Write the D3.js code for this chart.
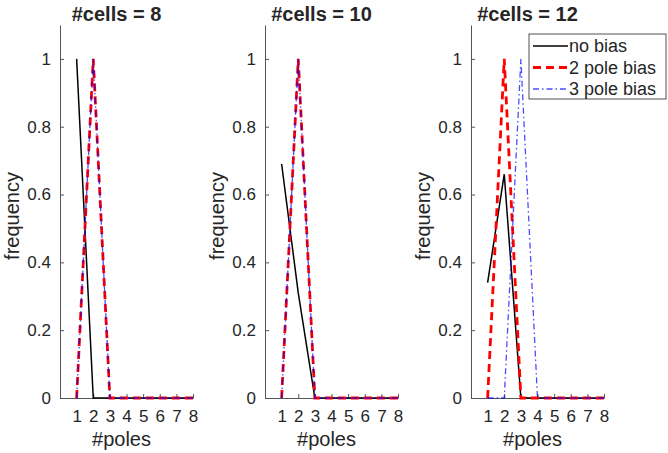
<!DOCTYPE html>
<html>
<head>
<meta charset="utf-8">
<script src="https://d3js.org/d3.v7.min.js"></script>
<style>
  body { margin: 0; background: #fff; }
  text { font-family: "Liberation Sans", Arial, sans-serif; fill: #262626; }
</style>
</head>
<body>
<script>
// values
var poles = [1, 2, 3, 4, 5, 6, 7, 8];
var cells = [8, 10, 12];
var noBias = [
  [1, 0, 0, 0, 0, 0, 0, 0],
  [0.69, 0.31, 0, 0, 0, 0, 0, 0],
  [0.34, 0.66, 0, 0, 0, 0, 0, 0]
];
var pole2Bias = [
  [0, 1, 0, 0, 0, 0, 0, 0],
  [0, 1, 0, 0, 0, 0, 0, 0],
  [0, 1, 0, 0, 0, 0, 0, 0]
];
var pole3Bias = [
  [0, 1, 0, 0, 0, 0, 0, 0],
  [0, 1, 0, 0, 0, 0, 0, 0],
  [0, 0, 1, 0, 0, 0, 0, 0]
];
var yTicks = [0, 0.2, 0.4, 0.6, 0.8, 1];
var seriesNames = ["no bias", "2 pole bias", "3 pole bias"];

var width = 668, height = 453;
var svg = d3.select("body").append("svg")
  .attr("width", width)
  .attr("height", height);

// left edge of each axes box
var lefts = [60, 265, 471];
var axW = 133, axTop = 25, axBottom = 398;

var styles = [
  { color: "#000000", w: 1.5, dash: null, op: 1 },
  { color: "#ff0000", w: 2.8, dash: "8,5", op: 1 },
  { color: "#0000ff", w: 1.3, dash: "6,3,1.5,3", op: 0.7 }
];

var y = d3.scaleLinear().domain([0, 1.1]).range([axBottom, axTop]);

cells.forEach(function (c, i) {
  var x = d3.scaleLinear().domain([0, 8]).range([lefts[i], lefts[i] + axW]);
  var g = svg.append("g");

  // axes, ticks pointing inward like matlab
  var xa = g.append("g")
    .attr("transform", "translate(0," + axBottom + ")")
    .call(d3.axisBottom(x).tickValues(poles).tickSizeInner(-4).tickSizeOuter(0).tickPadding(12));
  var ya = g.append("g")
    .attr("transform", "translate(" + lefts[i] + ",0)")
    .call(d3.axisLeft(y).tickValues(yTicks).tickSizeInner(-4).tickSizeOuter(0).tickPadding(9)
      .tickFormat(function (d) { return d3.format("~g")(d); }));
  [xa, ya].forEach(function (a) {
    a.select(".domain").attr("stroke", "#555").attr("stroke-width", 1);
    a.selectAll(".tick line").attr("stroke", "#555");
    a.selectAll(".tick text").style("font-size", "17px").attr("fill", "#262626");
  });

  // series lines
  var line = d3.line().x(function (d, k) { return x(poles[k]); }).y(function (d) { return y(d); });
  [noBias[i], pole2Bias[i], pole3Bias[i]].forEach(function (vals, s) {
    g.append("path")
      .datum(vals)
      .attr("d", line)
      .attr("fill", "none")
      .attr("stroke", styles[s].color)
      .attr("stroke-width", styles[s].w)
      .attr("stroke-opacity", styles[s].op)
      .attr("stroke-dasharray", styles[s].dash);
  });

  // labels
  g.append("text")
    .attr("x", lefts[i] + axW / 2 - 10)
    .attr("y", 21)
    .attr("text-anchor", "middle")
    .style("font-size", "20px")
    .style("font-weight", "bold")
    .attr("fill", "#000")
    .text("#cells = " + c);
  g.append("text")
    .attr("x", lefts[i] + axW / 2 - 5)
    .attr("y", 446)
    .attr("text-anchor", "middle")
    .style("font-size", "20px")
    .text("#poles");
  g.append("text")
    .attr("transform", "translate(" + (lefts[i] - 41) + ",216) rotate(-90)")
    .attr("text-anchor", "middle")
    .style("font-size", "20px")
    .text("frequency");
});

// legend in the last panel
var leg = svg.append("g");
leg.append("rect")
  .attr("x", 529).attr("y", 34)
  .attr("width", 137).attr("height", 65)
  .attr("fill", "#fff")
  .attr("stroke", "#262626")
  .attr("stroke-width", 0.8);
seriesNames.forEach(function (n, s) {
  var ly = 46 + s * 21.5;
  leg.append("line")
    .attr("x1", 533).attr("x2", 568)
    .attr("y1", ly).attr("y2", ly)
    .attr("stroke", styles[s].color)
    .attr("stroke-width", styles[s].w)
    .attr("stroke-opacity", styles[s].op)
    .attr("stroke-dasharray", styles[s].dash);
  leg.append("text")
    .attr("x", 569).attr("y", ly + 6)
    .style("font-size", "18px")
    .attr("fill", "#000")
    .text(n);
});
</script>
</body>
</html>
